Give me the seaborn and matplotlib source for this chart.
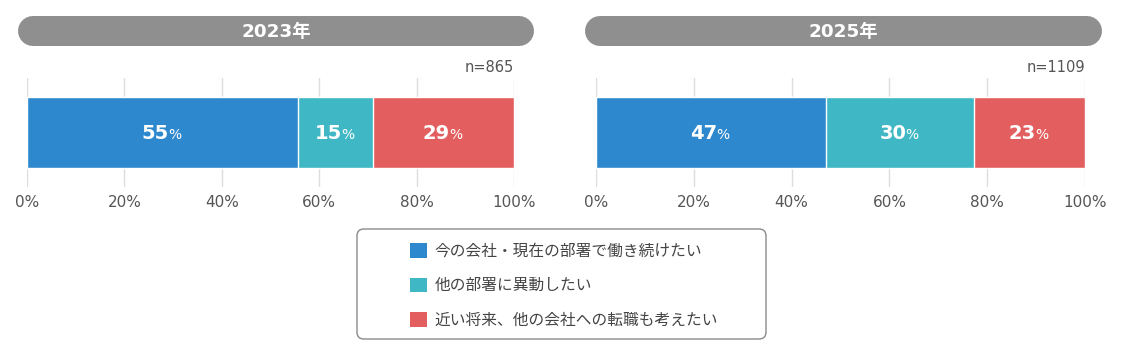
import matplotlib
matplotlib.use("Agg")
import matplotlib.pyplot as plt
from matplotlib.patches import FancyBboxPatch, Patch
import seaborn as sns
import pandas as pd
import numpy as np

# ---- data ----
years = ["2023年", "2025年"]
sample_sizes = ["n=865", "n=1109"]
categories = ["今の会社・現在の部署で働き続けたい", "他の部署に異動したい", "近い将来、他の会社への転職も考えたい"]
values_2023 = [55.6, 15.5, 28.9]
values_2025 = [47.0, 30.3, 22.7]
labels_2023 = ["55", "15", "29"]
labels_2025 = ["47", "30", "23"]
ticks = [0, 20, 40, 60, 80, 100]
tick_labels = ["0%", "20%", "40%", "60%", "80%", "100%"]
colors = ["#2E88CE", "#40B7C4", "#E35F5F"]

sns.set_theme(style="white")
plt.rcParams["font.family"] = ["DejaVu Sans", "Noto Sans CJK JP"]

W, H = 1126, 348
fig = plt.figure(figsize=(W / 100, H / 100), dpi=100)

# overlay in pixel coordinates for decorations
ov = fig.add_axes([0, 0, 1, 1])
ov.set_xlim(0, W)
ov.set_ylim(H, 0)
ov.axis("off")

def pill(x0, x1, y0, y1, text):
    h = y1 - y0
    yc = (y0 + y1) / 2
    ov.plot([x0 + h / 2, x1 - h / 2], [yc, yc], color="#8F8F8F",
            linewidth=h * 0.72, solid_capstyle="round")
    ov.text((x0 + x1) / 2, yc + 1, text, ha="center", va="center",
            color="white", fontsize=13.2, fontweight="bold")

pill(18, 534, 16, 46, years[0])
pill(585, 1102, 16, 46, years[1])

# legend box
ov.add_patch(FancyBboxPatch((357, 229), 409, 110,
                            boxstyle="round,pad=0,rounding_size=7",
                            facecolor="white", edgecolor="#8A8A8A", linewidth=1.0))

panels = [
    (27, 514, values_2023, labels_2023, sample_sizes[0], years[0]),
    (596, 1085, values_2025, labels_2025, sample_sizes[1], years[1]),
]
ax_top, ax_bot = 78, 187

for x0, x1, vals, labs, ntext, yr in panels:
    ax = fig.add_axes([x0 / W, (H - ax_bot) / H, (x1 - x0) / W, (ax_bot - ax_top) / H])
    cum = np.cumsum(vals)
    cum[-1] = 100.0
    for i in reversed(range(len(vals))):
        df = pd.DataFrame({"year": [yr], "value": [cum[i]]})
        sns.barplot(data=df, x="value", y="year", orient="h", color=colors[i],
                    saturation=1, width=0.66, ax=ax, zorder=3)
    starts = np.concatenate([[0], cum[:-1]])
    for s, e, lab in zip(starts, cum, labs):
        xc = (s + e) / 2
        ax.annotate(lab, (xc, 0), xytext=(4.5, -5), textcoords="offset points",
                    ha="right", va="baseline", color="white", fontsize=14,
                    fontweight="bold", zorder=5)
        ax.annotate("%", (xc, 0), xytext=(4.0, -5), textcoords="offset points",
                    ha="left", va="baseline", color="white", fontsize=10,
                    zorder=5)
    ax.set_xlim(0, 100)
    ax.set_ylim(0.5, -0.5)
    ax.set_xticks(ticks)
    ax.set_xticklabels(tick_labels, fontsize=11, color="#555555")
    ax.tick_params(axis="x", length=0, pad=5.5)
    ax.set_yticks([])
    ax.set_xlabel("")
    ax.set_ylabel("")
    for sp in ax.spines.values():
        sp.set_visible(False)
    ax.grid(axis="x", color="#DDDDDD", linewidth=1, zorder=0)
    ax.set_axisbelow(True)
    ax.patch.set_alpha(0)
    fig.text(x1 / W, (H - 68) / H, ntext, ha="right", va="center",
             fontsize=10.5, color="#555555")

handles = [Patch(facecolor=c, edgecolor="none") for c in colors]
fig.legend(handles, categories, loc="center", bbox_to_anchor=(564 / W, (H - 285.5) / H),
           frameon=False, fontsize=11.3, labelcolor="#444444",
           handlelength=1.05, handleheight=1.05, handletextpad=0.5, labelspacing=1.2)

fig.savefig("out.png", dpi=100)
